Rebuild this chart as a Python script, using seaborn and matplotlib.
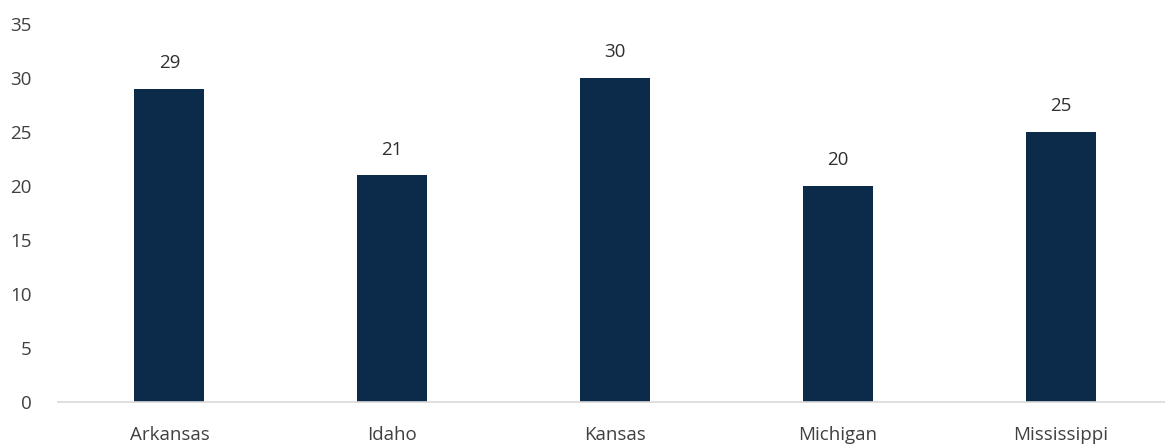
import matplotlib
matplotlib.use("Agg")
import matplotlib.pyplot as plt
import seaborn as sns
import pandas as pd

categories = ["Arkansas", "Idaho", "Kansas", "Michigan", "Mississippi"]
values = [29, 21, 30, 20, 25]
y_ticks = [0, 5, 10, 15, 20, 25, 30, 35]

sns.set_theme(style="white")
plt.rcParams['font.family'] = ['Open Sans', 'DejaVu Sans']

df = pd.DataFrame({"state": categories, "value": values})

fig = plt.figure(figsize=(11.65, 4.46), dpi=100)
ax = fig.add_axes([58/1165, 1-402/446, (1172-58)/1165, (402-24)/446])

sns.barplot(data=df, x="state", y="value", color="#0c2a4a", width=0.315,
            saturation=1, ax=ax, edgecolor="#0c2a4a", linewidth=0)

ax.set_ylim(0, 35)
ax.set_yticks(y_ticks)
ax.set_xlim(-0.5, 4.5)
ax.set_xlabel("")
ax.set_ylabel("")
for s in ["top", "right", "left"]:
    ax.spines[s].set_visible(False)
ax.spines["bottom"].set_color("#d9d9d9")
ax.spines["bottom"].set_linewidth(1.2)
ax.tick_params(axis="both", length=0, labelsize=13.5, colors="#404040")
ax.tick_params(axis="y", pad=19)
ax.tick_params(axis="x", pad=17)
for lab in ax.get_yticklabels():
    lab.set_horizontalalignment("right")

for c in ax.containers:
    ax.bar_label(c, labels=[str(v) for v in values], padding=12,
                 fontsize=13.5, color="#303030")

fig.savefig("out.png", dpi=100)
